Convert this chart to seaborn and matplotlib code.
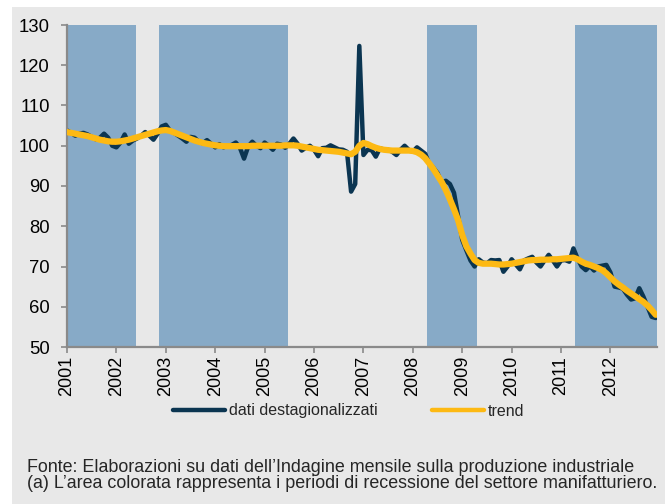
#PRODUZIONE INDUSTRIALE - DATI DESTAGIONALIZZATI E TREND

import pandas as pd
import matplotlib.pyplot as plt
import seaborn as sns
from matplotlib.lines import Line2D
from matplotlib.patches import Rectangle

# dati mensili gen 2001 - dic 2012
years = [str(y) for y in range(2001, 2013)]

destag = [
    103.8, 103.2, 102.5, 103.0, 103.2, 102.8, 102.2, 101.6, 102.0, 103.0, 102.0, 100.0,  # 2001
    99.6, 100.8, 102.8, 100.5, 101.3, 101.8, 102.5, 103.4, 102.5, 101.5, 103.0, 104.8,   # 2002
    105.2, 103.8, 103.2, 102.5, 101.8, 101.0, 102.2, 102.0, 101.0, 100.6, 101.4, 100.5,  # 2003
    99.6, 100.4, 99.6, 100.0, 100.2, 100.8, 99.5, 96.8, 99.8, 101.0, 100.0, 99.4,        # 2004
    100.8, 100.0, 99.0, 100.5, 100.3, 99.5, 100.5, 101.8, 100.5, 98.8, 99.5, 100.0,      # 2005
    99.0, 97.4, 99.4, 99.5, 100.1, 99.6, 99.1, 99.0, 98.5, 88.6, 90.5, 124.8,            # 2006
    97.7, 99.0, 98.9, 97.3, 99.4, 99.0, 99.0, 98.5, 97.7, 99.0, 100.0, 99.0,             # 2007
    98.5, 99.6, 98.8, 98.0, 95.5, 94.5, 93.2, 90.8, 91.3, 90.5, 88.3, 82.5,              # 2008
    76.6, 74.0, 71.5, 70.0, 71.8, 71.0, 70.8, 71.6, 71.5, 71.6, 68.7, 70.0,              # 2009
    71.8, 70.5, 69.3, 71.5, 72.0, 72.4, 71.0, 70.0, 71.5, 72.9, 71.5, 70.0,              # 2010
    71.5, 71.6, 71.2, 74.5, 72.0, 70.0, 69.1, 70.1, 69.0, 70.0, 70.2, 70.4,              # 2011
    68.5, 65.0, 64.8, 64.5, 63.0, 61.8, 62.1, 64.6, 62.5, 60.0, 57.5, 57.2,              # 2012
]

trend = [
    103.4, 103.2, 103.0, 102.8, 102.6, 102.4, 102.1, 101.8, 101.5, 101.3, 101.1, 101.0,
    101.0, 101.1, 101.3, 101.5, 101.8, 102.1, 102.4, 102.7, 103.0, 103.3, 103.6, 103.8,
    103.9, 103.7, 103.3, 102.9, 102.5, 102.1, 101.7, 101.3, 101.0, 100.7, 100.5, 100.3,
    100.1, 100.0, 99.9, 99.9, 99.9, 99.9, 99.9, 99.9, 99.9, 100.0, 100.0, 100.0,
    100.0, 100.0, 100.0, 100.0, 100.0, 100.1, 100.1, 100.1, 100.0, 99.8, 99.6, 99.4,
    99.2, 99.0, 98.9, 98.8, 98.7, 98.6, 98.5, 98.3, 98.1, 97.9, 98.5, 100.0,
    100.7, 100.4, 99.9, 99.5, 99.2, 99.0, 98.9, 98.8, 98.8, 98.8, 98.8, 98.8,
    98.7, 98.4, 97.8, 96.9, 95.6, 94.2, 92.6, 91.0, 89.0, 86.7, 84.2, 81.5,
    77.8, 75.0, 73.2, 71.6, 70.9, 70.7, 70.7, 70.7, 70.6, 70.5, 70.5, 70.6,
    70.7, 70.9, 71.1, 71.3, 71.5, 71.6, 71.6, 71.7, 71.7, 71.7, 71.8, 71.8,
    71.9, 72.0, 72.1, 72.2, 71.8, 71.2, 70.7, 70.4, 70.0, 69.6, 69.1, 68.3,
    67.3, 66.3, 65.5, 64.8, 64.0, 63.3, 62.6, 61.9, 61.2, 60.3, 59.2, 58.0,
]

# periodi di recessione (in mesi da gen 2001)
rec_start = [0, 22.3, 87.4, 123.4]
rec_end = [16.8, 53.7, 99.6, 143.3]

df = pd.DataFrame({"mese": range(len(destag)),
                   "dati destagionalizzati": destag,
                   "trend": trend})

sns.set_theme(style="ticks")
plt.rcParams['font.family'] = ['Liberation Sans', 'DejaVu Sans']

bg = "#e8e8e8"
dark = "#0b3551"
yellow = "#fdb913"
shade = "#87aac7"
axcol = "#8a8a8a"

fig = plt.figure(figsize=(6.65, 5.04), dpi=100, facecolor="white")
fig.patches.append(Rectangle((12 / 665, 0), 1, 1 - 7 / 504, transform=fig.transFigure,
                             facecolor=bg, edgecolor="none", zorder=-10))
ax = fig.add_axes([67 / 665, 1 - 347 / 504, 590 / 665, 322 / 504])
ax.set_facecolor(bg)

for s, e in zip(rec_start, rec_end):
    ax.axvspan(s, e, color=shade, lw=0, zorder=0)

sns.lineplot(data=df, x="mese", y="dati destagionalizzati", color=dark, lw=3.2, ax=ax,
             solid_joinstyle="round", solid_capstyle="round", zorder=2)
sns.lineplot(data=df, x="mese", y="trend", color=yellow, lw=4.5, ax=ax,
             solid_joinstyle="round", solid_capstyle="round", zorder=3)

ax.set_xlim(0, 143.3)
ax.set_ylim(50, 130)
ax.set_yticks(range(50, 131, 10))
ax.set_xticks(range(0, 144, 12))
ax.set_xticklabels(years, rotation=90)
ax.set_xlabel("")
ax.set_ylabel("")

sns.despine(ax=ax)
for sp in ["left", "bottom"]:
    ax.spines[sp].set_color(axcol)
    ax.spines[sp].set_linewidth(1.6)
ax.tick_params(axis="both", colors=axcol, labelcolor="black", labelsize=13.3,
               length=4.5, width=1.2)
ax.tick_params(axis="y", pad=8)
ax.tick_params(axis="x", pad=2, labelsize=13)

handles = [Line2D([], [], color=dark, lw=3.2, solid_capstyle="round"),
           Line2D([], [], color=yellow, lw=3.2, solid_capstyle="round")]
fig.legend(handles, ["dati destagionalizzati", "trend"], loc="center",
           bbox_to_anchor=(349 / 665, 1 - 411 / 504), ncol=2, frameon=False,
           fontsize=11.5, handlelength=3.25, handletextpad=0.25, columnspacing=3.4)

fig.text(27 / 665, 1 - 467 / 504,
         "Fonte: Elaborazioni su dati dell\u2019Indagine mensile sulla produzione industriale",
         fontsize=12.9, va="center", ha="left")
fig.text(27 / 665, 1 - 484 / 504,
         "(a) L\u2019area colorata rappresenta i periodi di recessione del settore manifatturiero.",
         fontsize=12.9, va="center", ha="left")

fig.savefig("out.png", dpi=100, facecolor="white")
